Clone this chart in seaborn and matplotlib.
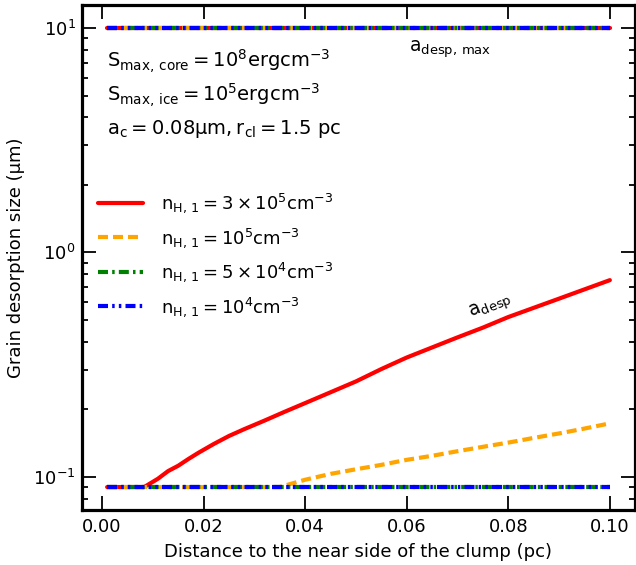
import numpy as np
import pandas as pd
import matplotlib
matplotlib.use("Agg")
import matplotlib.pyplot as plt
import seaborn as sns

# ---- data ----
x_full = [0.001, 0.1]
amax = [10.0, 10.0]

red_x = [0.001, 0.0083, 0.011, 0.013, 0.015, 0.017, 0.019, 0.022, 0.025, 0.028, 0.032,
         0.036, 0.040, 0.045, 0.050, 0.055, 0.060, 0.065, 0.070, 0.075, 0.080, 0.085,
         0.090, 0.095, 0.100]
red_y = [0.09, 0.09, 0.098, 0.106, 0.112, 0.120, 0.128, 0.140, 0.152, 0.163, 0.178,
         0.195, 0.213, 0.238, 0.266, 0.302, 0.340, 0.377, 0.418, 0.462, 0.515, 0.566,
         0.622, 0.684, 0.752]

orange_x = [0.001, 0.035, 0.040, 0.045, 0.050, 0.055, 0.060, 0.065, 0.070, 0.075,
            0.080, 0.085, 0.090, 0.095, 0.100]
orange_y = [0.09, 0.09, 0.097, 0.103, 0.108, 0.113, 0.119, 0.124, 0.130, 0.136,
            0.142, 0.149, 0.156, 0.164, 0.173]

green_x = [0.001, 0.100]
green_y = [0.09, 0.09]
blue_x = [0.001, 0.100]
blue_y = [0.09, 0.09]

labels = [r'$n_{H,\,1} = 3\times10^{5} cm^{-3}$',
          r'$n_{H,\,1} = 10^{5} cm^{-3}$',
          r'$n_{H,\,1} = 5\times10^{4} cm^{-3}$',
          r'$n_{H,\,1} = 10^{4} cm^{-3}$']
colors = ['red', 'orange', 'green', 'blue']
styles = ['-', (0, (2.4, 1.2)), (0, (2.4, 1.0, 0.6, 1.0)), (0, (2.4, 1.0, 0.6, 1.0, 0.6, 1.0))]

sns.set_style('ticks')
plt.rcParams['font.family'] = ['DejaVu Sans']
plt.rcParams['mathtext.default'] = 'regular'
plt.rcParams['font.size'] = 13
plt.rcParams['xtick.direction'] = 'in'
plt.rcParams['ytick.direction'] = 'in'
for k in ['text.color', 'axes.labelcolor', 'xtick.color', 'ytick.color', 'axes.edgecolor']:
    plt.rcParams[k] = 'black'

fig = plt.figure(figsize=(6.36, 5.65), dpi=100)
ax = fig.add_axes([82/636, 55/565, 553/636, 505/565])

series = [(red_x, red_y), (orange_x, orange_y), (green_x, green_y), (blue_x, blue_y)]
lw = 3
for (sx, sy), c, ls, lab in zip(series, colors, styles, labels):
    df = pd.DataFrame({'x': sx, 'y': sy})
    sns.lineplot(data=df, x='x', y='y', color=c, linestyle=ls, lw=lw, label=lab, ax=ax)
for c, ls in zip(colors, styles):
    df = pd.DataFrame({'x': x_full, 'y': amax})
    sns.lineplot(data=df, x='x', y='y', color=c, linestyle=ls, lw=lw, ax=ax, legend=False)

ax.set_yscale('log')
ax.margins(x=0.05, y=0.05)
ax.set_xticks([0.0, 0.02, 0.04, 0.06, 0.08, 0.10])
ax.set_xticklabels(['0.00', '0.02', '0.04', '0.06', '0.08', '0.10'])

for s in ax.spines.values():
    s.set_linewidth(2.3)
    s.set_color('black')
ax.tick_params(which='major', direction='in', length=10, width=1.3, top=True, right=True,
               labelsize=13, colors='black')
ax.tick_params(axis='x', which='major', pad=6)
ax.tick_params(axis='y', which='major', pad=4.5)
ax.tick_params(which='minor', direction='in', length=4.5, width=1.3, top=False, right=True,
               colors='black')
ax.tick_params(axis='x', which='minor', bottom=False, top=False)

ax.set_xlabel('Distance to the near side of the clump (pc)', fontsize=13, labelpad=5)
ax.set_ylabel('Grain desorption size (μm)', fontsize=13, labelpad=6)

ax.text(0.045, 0.889, r'$S_{max,\,core} = 10^{8} erg cm^{-3}$', transform=ax.transAxes,
        fontsize=14, va='center', ha='left')
ax.text(0.045, 0.821, r'$S_{max,\,ice} = 10^{5} erg cm^{-3}$', transform=ax.transAxes,
        fontsize=14, va='center', ha='left')
ax.text(0.045, 0.755, r'$a_{c} = 0.08\mu m, r_{cl} = 1.5$ pc', transform=ax.transAxes,
        fontsize=14, va='center', ha='left')

ax.text(0.0605, 8.0, r'$a_{desp,\,max}$', fontsize=13.5, va='center', ha='left')
ax.text(0.0766, 0.575, r'$a_{desp}$', fontsize=13.5, va='center', ha='center', rotation=22)

ax.legend(loc='center left', bbox_to_anchor=(0.016, 0.505), borderaxespad=0,
          frameon=False, handlelength=2.5, handletextpad=1.0, labelspacing=0.6,
          fontsize=13)

fig.savefig('out.png', dpi=100)
